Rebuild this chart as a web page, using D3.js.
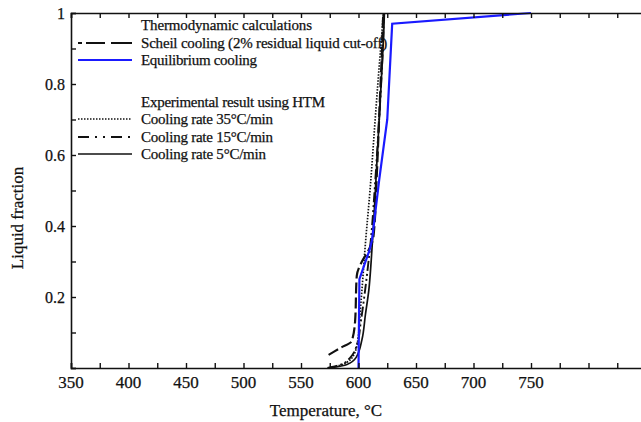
<!DOCTYPE html>
<html>
<head>
<meta charset="utf-8">
<script src="https://cdn.jsdelivr.net/npm/d3@7"></script>
<style>
  body { margin: 0; background: #fff; }
  text { font-family: "Liberation Serif", "Times New Roman", serif; fill: #111; stroke: #111; stroke-width: 0.25px; }
</style>
</head>
<body>
<script>
const w = 641
const h = 422

// tick labels
const xTickLabels = [350, 400, 450, 500, 550, 600, 650, 700, 750]
const yTickLabels = [0.2, 0.4, 0.6, 0.8, 1]

// [temperature, liquid fraction]
const scheil = [[574,0.037],[584,0.056],[594,0.075],[597,0.13],[598.5,0.26],[603,0.30],[608.5,0.33],[613,0.37],[616,0.55],[618.5,0.75],[620.5,0.9],[621.5,1.0]]
const equilibrium = [[600,0],[600.3,0.1],[600.8,0.25],[605,0.29],[609.6,0.332],[611.7,0.36],[618,0.53],[625,0.70],[629.3,0.97],[750,1.0]]
const rate35 = [[575,0],[584,0.008],[594,0.027],[599,0.07],[601.5,0.16],[603,0.22],[606,0.35],[610,0.5],[614.5,0.7],[618,0.85],[620.5,0.95],[621.5,1.0]]
const rate15 = [[573,0],[585,0.01],[593,0.03],[599,0.07],[602,0.13],[605,0.2],[608,0.28],[611,0.37],[614,0.5],[617,0.65],[620,0.82],[621.5,0.93],[622,1.0]]
const rate5 = [[575,0],[590,0.01],[598,0.03],[603,0.08],[606,0.15],[609,0.22],[611,0.30],[613,0.40],[615.5,0.55],[618,0.70],[620.5,0.85],[622,0.95],[622.5,1.0]]

const legendTitles = ['Thermodynamic calculations', 'Experimental result using HTM']
const legendCalc = ['Scheil cooling (2% residual liquid  cut-off)', 'Equilibrium cooling']
const legendExp = ['Cooling rate 35°C/min', 'Cooling rate 15°C/min', 'Cooling rate 5°C/min']

const x = d3.scaleLinear().domain([350, 850]).range([71, 646])
const y = d3.scaleLinear().domain([0, 1]).range([368, 13])

const svg = d3.select('body').append('svg')
    .attr('width', w)
    .attr('height', h)

svg.append('rect').attr('width', w).attr('height', h).attr('fill', '#fff')

const smooth = d3.line()
    .x(function (d) { return x(d[0]) })
    .y(function (d) { return y(d[1]) })
    .curve(d3.curveMonotoneY)

const straight = d3.line()
    .x(function (d) { return x(d[0]) })
    .y(function (d) { return y(d[1]) })

const series = [
    { data: rate35, color: '#111', width: 1.7, dash: '1.5 1.5', gen: smooth },
    { data: rate15, color: '#111', width: 1.9, dash: '10 3 2 3 2 3', gen: smooth },
    { data: rate5, color: '#111', width: 1.7, dash: null, gen: smooth },
    { data: scheil, color: '#111', width: 2.2, dash: '11 4', gen: smooth },
    { data: equilibrium, color: '#1a1aff', width: 2.2, dash: null, gen: straight }
]

series.forEach(function (s) {
    svg.append('path')
        .datum(s.data)
        .attr('d', s.gen)
        .attr('fill', 'none')
        .attr('stroke', s.color)
        .attr('stroke-width', s.width)
        .attr('stroke-dasharray', s.dash)
})

// axes, ticks pointing inwards
const xMinor = d3.range(350, 851, 25)
const yMinor = d3.range(0, 1.001, 0.1)

const axBottom = svg.append('g').attr('transform', 'translate(0,' + y(0) + ')')
    .call(d3.axisBottom(x).tickValues(xMinor).tickSize(-5).tickFormat(''))
const axTop = svg.append('g').attr('transform', 'translate(0,' + y(1) + ')')
    .call(d3.axisTop(x).tickValues(xMinor).tickSize(-5).tickFormat(''))
const axLeft = svg.append('g').attr('transform', 'translate(' + x(350) + ',0)')
    .call(d3.axisLeft(y).tickValues(yMinor).tickSize(-5).tickFormat(''))
const axRight = svg.append('g').attr('transform', 'translate(' + x(850) + ',0)')
    .call(d3.axisRight(y).tickValues(yMinor).tickSize(-5).tickFormat(''))

;[axBottom, axTop, axLeft, axRight].forEach(function (g) {
    g.select('.domain').attr('stroke', '#111').attr('stroke-width', 1.6)
    g.selectAll('.tick line').attr('stroke', '#111').attr('stroke-width', 1.4)
})

svg.selectAll('.xlab')
    .data(xTickLabels)
    .enter()
    .append('text')
    .attr('x', function (d) { return x(d) })
    .attr('y', 388)
    .attr('text-anchor', 'middle')
    .style('font-size', '17px')
    .text(function (d) { return d })

svg.selectAll('.ylab')
    .data(yTickLabels)
    .enter()
    .append('text')
    .attr('x', 65)
    .attr('y', function (d) { return y(d) + 5.5 })
    .attr('text-anchor', 'end')
    .style('font-size', '16px')
    .text(function (d) { return d })

svg.append('text')
    .attr('x', 326)
    .attr('y', 416)
    .attr('text-anchor', 'middle')
    .style('font-size', '17px')
    .text('Temperature, °C')

svg.append('text')
    .attr('transform', 'translate(23,218) rotate(-90)')
    .attr('text-anchor', 'middle')
    .style('font-size', '17px')
    .text('Liquid fraction')

// legend
const legendX = 141
const lx0 = 78
const lx1 = 132
const rows = [
    { text: legendTitles[0], y: 25, s: null, len: 171 },
    { text: legendCalc[0], y: 43, s: series[3], dash: '4 4 19 6 21', len: 246 },
    { text: legendCalc[1], y: 60, s: series[4], len: 116 },
    { text: legendTitles[1], y: 102, s: null, len: 184 },
    { text: legendExp[0], y: 119, s: series[0], len: 132 },
    { text: legendExp[1], y: 137, s: series[1], dash: '11 6 2 6 2 6', len: 132 },
    { text: legendExp[2], y: 154, s: series[2], len: 125 }
]

rows.forEach(function (r) {
    const t = svg.append('text')
        .attr('x', legendX)
        .attr('y', r.y + 5)
        .style('font-size', '15px')
        .text(r.text)
    // stretch or squeeze the letter spacing to the width seen in the picture
    const natural = t.node().getComputedTextLength()
    t.style('letter-spacing', ((r.len - natural) / (r.text.length - 1)) + 'px')
    if (r.s) {
        svg.append('line')
            .attr('x1', lx0).attr('x2', lx1)
            .attr('y1', r.y).attr('y2', r.y)
            .attr('stroke', r.s.color)
            .attr('stroke-width', r.s.width)
            .attr('stroke-dasharray', r.dash || r.s.dash)
    }
})
</script>
</body>
</html>
